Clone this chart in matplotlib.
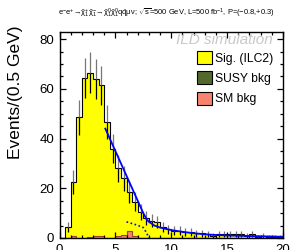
import numpy as np
import matplotlib
matplotlib.use("Agg")
import matplotlib.pyplot as plt
from matplotlib.patches import Patch
from matplotlib.ticker import MultipleLocator

plt.rcParams['font.family'] = ['Liberation Sans', 'DejaVu Sans']
plt.rcParams['mathtext.fontset'] = 'custom'
plt.rcParams['mathtext.rm'] = 'Liberation Sans'
plt.rcParams['mathtext.it'] = 'Liberation Sans:italic'

#%% data: 40 bins of 0.5 GeV from 0 to 20
bin_edges = np.arange(0, 20.5, 0.5)
sm_bkg = [0, 0, 1, 0, 0, 0.5, 1, 1, 0, 0, 1, 1.2, 3, 1, 0, 0, 0, 0, 0, 0,
          0, 0, 0, 0, 0, 0, 0, 0, 0, 0, 0, 0, 0, 0, 0, 0, 0, 0, 0, 0]
susy_bkg = [0] * 40
signal = [0, 4.5, 21.5, 48.5, 64.5, 66, 63, 60.5, 46.5, 36, 27, 22.8, 15.5, 13.5, 10.5, 8, 7, 6.5, 4.5, 3.5,
          3, 3, 2.5, 2.5, 2, 2, 1.5, 1, 1.5, 1.5, 1.5, 1.5, 1.5, 1, 1.5, 0.5, 1, 0.5, 0.5, 0.5]

# fit curves
fit_x = [4.1, 4.5, 5.0, 5.5, 6.0, 6.5, 7.0, 7.5, 7.8, 8.0, 8.5, 9.0, 10, 11, 12, 13, 14, 15, 16, 17, 18, 19, 20]
fit_y = [44, 40, 35, 30, 25, 20, 15, 10, 7.5, 6.5, 5.0, 4.2, 3.2, 2.5, 1.9, 1.5, 1.2, 1.0, 0.9, 0.8, 0.7, 0.6, 0.5]
comp_x = [6.0, 6.5, 7.0, 7.5, 7.8, 8.0]
comp_y = [6.5, 5.8, 5.1, 4.2, 2.0, 0.0]

#%%
sm = np.array(sm_bkg, dtype=float)
susy = sm + np.array(susy_bkg, dtype=float)
total = susy + np.array(signal, dtype=float)

fig = plt.figure(figsize=(2.92, 2.5), dpi=100)
ax = fig.add_axes([59.5 / 292, 1 - 238 / 250, (283 - 59.5) / 292, (238 - 31.7) / 250])

# stacked histos, ROOT style
ax.stairs(total, bin_edges, fill=True, color='#ffff00', lw=0)
ax.stairs(susy, bin_edges, fill=True, color='#52692b', lw=0)
ax.stairs(sm, bin_edges, fill=True, color='#f7846f', lw=0)
ax.stairs(sm, bin_edges, color='#a04030', lw=0.8)
ax.stairs(total, bin_edges, color='black', lw=0.8)

# error bars sqrt(N)
centers = 0.5 * (bin_edges[:-1] + bin_edges[1:])
err = np.sqrt(total)
ax.vlines(centers, total - err, total, color='black', lw=0.9)
ax.vlines(centers, total, total + err, color='#777777', lw=0.9)

ax.plot(fit_x, fit_y, color='#0000ff', lw=1.3)
ax.plot(comp_x, comp_y, color='#0000ff', lw=1.2, ls=(0, (1, 1.5)))

ax.set_xlim(0, 20)
ax.set_ylim(0, 83)
ax.xaxis.set_major_locator(MultipleLocator(5))
ax.xaxis.set_minor_locator(MultipleLocator(1))
ax.yaxis.set_major_locator(MultipleLocator(20))
ax.yaxis.set_minor_locator(MultipleLocator(5))
ax.tick_params(which='both', direction='in', top=True, right=True, width=0.9, labelsize=9.5, pad=4)
ax.tick_params(which='major', length=4.5)
ax.tick_params(which='minor', length=2.3)
for s in ax.spines.values():
    s.set_linewidth(1.0)

fig.text(15.5 / 292, 1 - 92 / 250, 'Events/(0.5 GeV)', rotation=90, ha='center', va='center', fontsize=12.5)

ax.text(273 / 292, 1 - 40 / 250, 'ILD simulation', transform=fig.transFigure, ha='right', va='center',
        fontsize=11, style='italic', color='#c8c8c8')

title = (r'$\mathregular{e^{-}e^{+}\!\to\!\tilde{\chi}^{+}_{1}\tilde{\chi}^{-}_{1}\!\to\!\tilde{\chi}^{0}_{1}\tilde{\chi}^{0}_{1}q\bar{q}\mu\nu}$'
         r'; $\sqrt{\mathregular{s}}$=500 GeV, L=500 fb$^{-1}$, P=(−0.8,+0.3)')
fig.text(166.5 / 292, 1 - 13 / 250, title, ha='center', va='center', fontsize=5.4)

handles = [Patch(facecolor='#ffff00', edgecolor='black', lw=0.8),
           Patch(facecolor='#52692b', edgecolor='black', lw=0.8),
           Patch(facecolor='#f7846f', edgecolor='black', lw=0.8)]
fig.legend(handles, ['Sig. (ILC2)', 'SUSY bkg', 'SM bkg'], loc='upper left',
           bbox_to_anchor=(197 / 292, 1 - 51 / 250), frameon=False, fontsize=8.7,
           handlelength=1.2, handleheight=1.3, handletextpad=0.3, labelspacing=0.55,
           borderpad=0, borderaxespad=0)

fig.savefig('out.png', dpi=100)
